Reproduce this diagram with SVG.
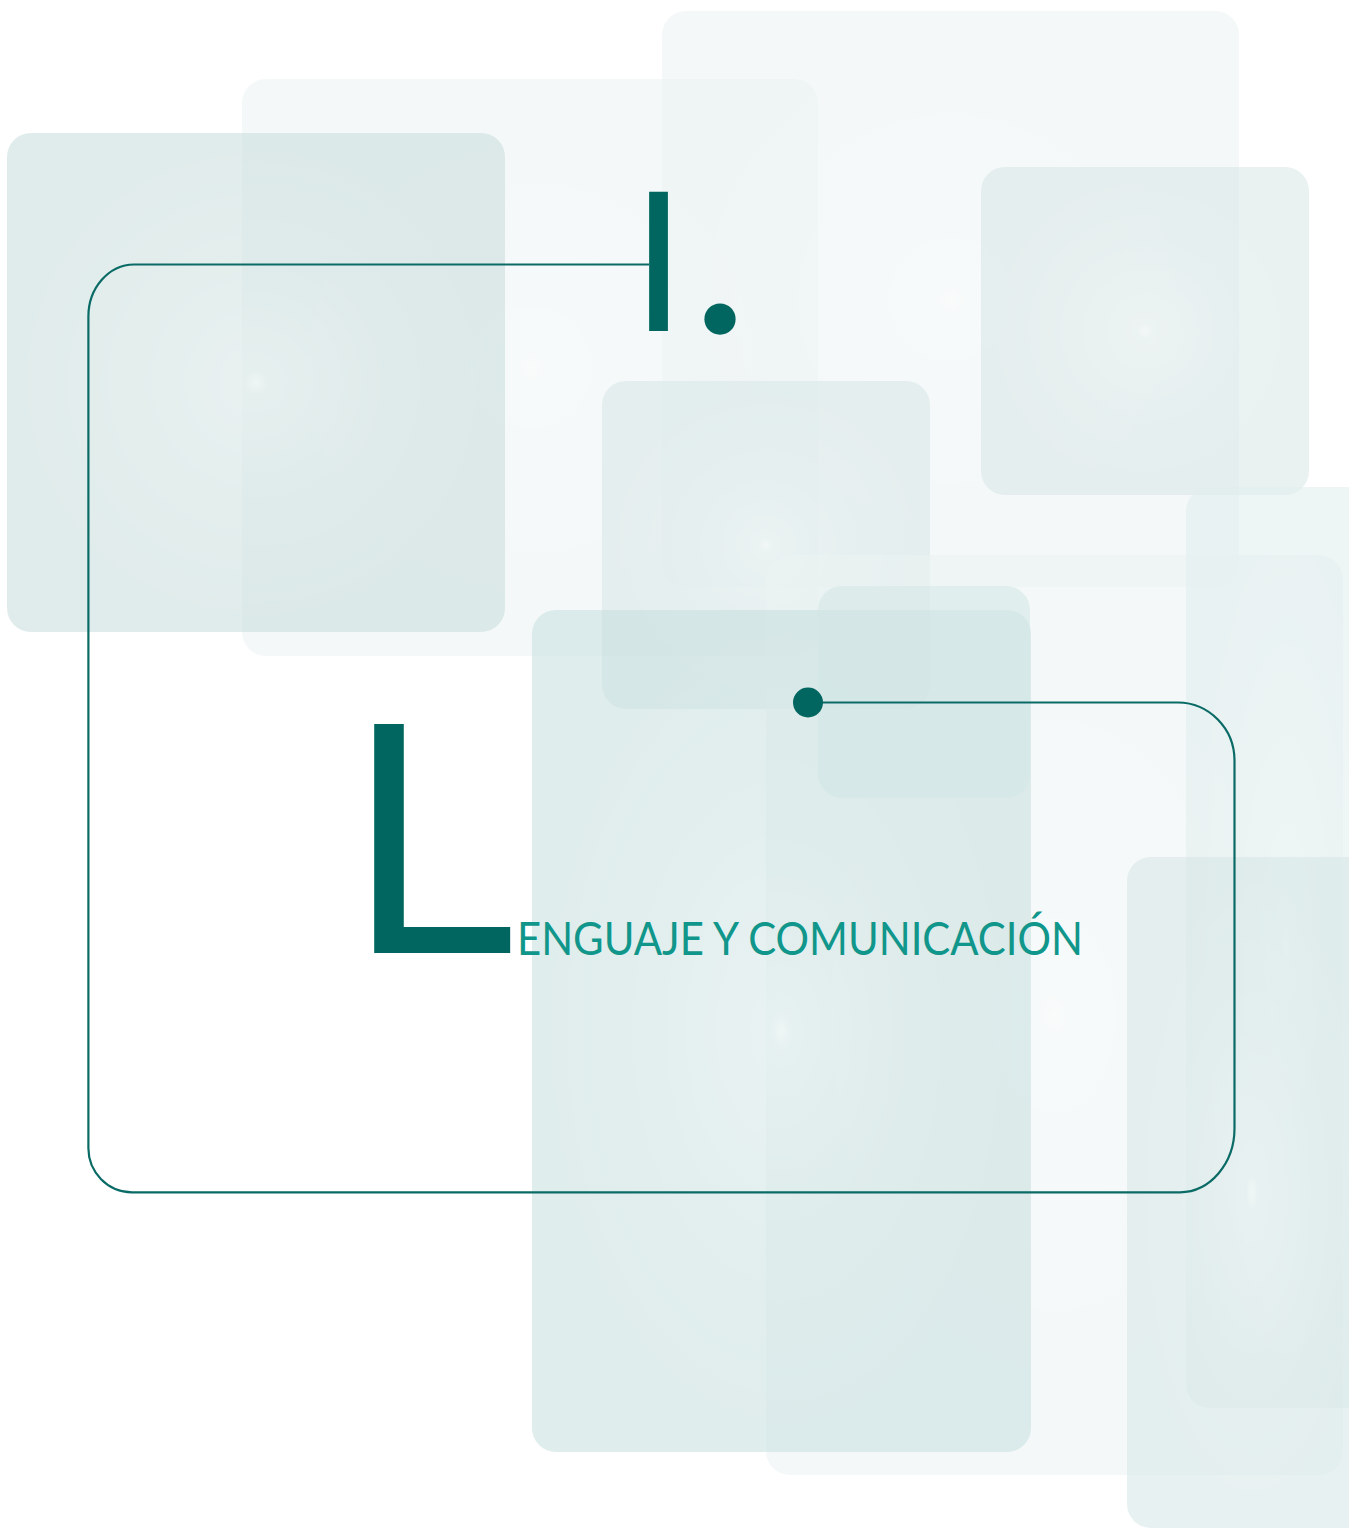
<svg xmlns="http://www.w3.org/2000/svg" width="1349" height="1532" viewBox="0 0 1349 1532">
  <defs>
    <radialGradient id="glow" cx="0.5" cy="0.5" r="0.5">
      <stop offset="0" stop-color="#ffffff" stop-opacity="0.55"/>
      <stop offset="0.05" stop-color="#ffffff" stop-opacity="0.28"/>
      <stop offset="0.5" stop-color="#ffffff" stop-opacity="0.1"/>
      <stop offset="1" stop-color="#ffffff" stop-opacity="0"/>
    </radialGradient>
    <style>
      .tile rect { opacity: 0.55; }
      .tile rect.g { fill: url(#glow); opacity: 1; }
      .conn { fill: none; stroke: #0a6b66; stroke-width: 2.2; }
      .dark { fill: #00665f; font-family: "DejaVu Sans", sans-serif; }
      .title { fill: #10968a; font-family: Lato, "Open Sans", sans-serif; font-size: 46px; }
    </style>
  </defs>
  <rect width="1349" height="1532" fill="#ffffff"/>
  <g id="tiles">
    <g id="tile-b" class="tile"><rect x="242" y="79" width="576" height="577" rx="24" fill="#ebf2f2"/><rect class="g" x="242" y="79" width="576" height="577" rx="24"/></g>
    <g id="tile-c" class="tile"><rect x="662" y="11" width="577" height="576" rx="24" fill="#ebf2f2"/><rect class="g" x="662" y="11" width="577" height="576" rx="24"/></g>
    <g id="tile-a" class="tile"><rect x="7" y="133" width="498" height="499" rx="24" fill="#c7dcdb"/><rect class="g" x="7" y="133" width="498" height="499" rx="24"/></g>
    <g id="tile-d" class="tile"><rect x="981" y="167" width="328" height="328" rx="24" fill="#d7e6e6"/><rect class="g" x="981" y="167" width="328" height="328" rx="24"/></g>
    <g id="tile-e" class="tile"><rect x="602" y="381" width="328" height="328" rx="24" fill="#d7e6e6"/><rect class="g" x="602" y="381" width="328" height="328" rx="24"/></g>
    <g id="tile-f" class="tile"><rect x="766" y="555" width="577" height="920" rx="24" fill="#ebf2f2"/><rect class="g" x="766" y="555" width="577" height="920" rx="24"/></g>
    <g id="tile-g" class="tile"><rect x="532" y="610" width="499" height="842" rx="24" fill="#c7dede"/><rect class="g" x="532" y="610" width="499" height="842" rx="24"/></g>
    <g id="tile-h" class="tile"><rect x="818" y="586" width="212" height="212" rx="24" fill="#d2e5e5"/></g>
    <g id="tile-i" class="tile"><rect x="1186" y="487" width="200" height="921" rx="24" fill="#e0eded"/><rect class="g" x="1186" y="487" width="200" height="921" rx="24"/></g>
    <g id="tile-j" class="tile"><rect x="1127" y="857" width="250" height="671" rx="24" fill="#d5e6e6"/><rect class="g" x="1127" y="857" width="250" height="671" rx="24"/></g>
  </g>
  <g id="connectors">
    <path class="conn" d="M649,264.5 H134 A46,52 0 0 0 88.4,317 V1148 A44,44 0 0 0 132,1192.3 H1180 A55,64 0 0 0 1234.5,1128 V760 A57,58 0 0 0 1178,702.5 H808"/>
    <circle cx="808" cy="702.5" r="15" fill="#00665f"/>
  </g>
  <g id="chapter-number">
    <text class="dark" x="630.5" y="331" font-size="190">I<tspan x="687" y="331" font-family="Liberation Serif, serif" font-size="264">.</tspan></text>
  </g>
  <g id="chapter-title">
    <text class="dark" x="344.8" y="953" font-size="314" textLength="167" lengthAdjust="spacingAndGlyphs">L</text>
    <text class="title" x="517" y="955" textLength="566" lengthAdjust="spacingAndGlyphs">ENGUAJE Y COMUNICACIÓN</text>
  </g>
</svg>
